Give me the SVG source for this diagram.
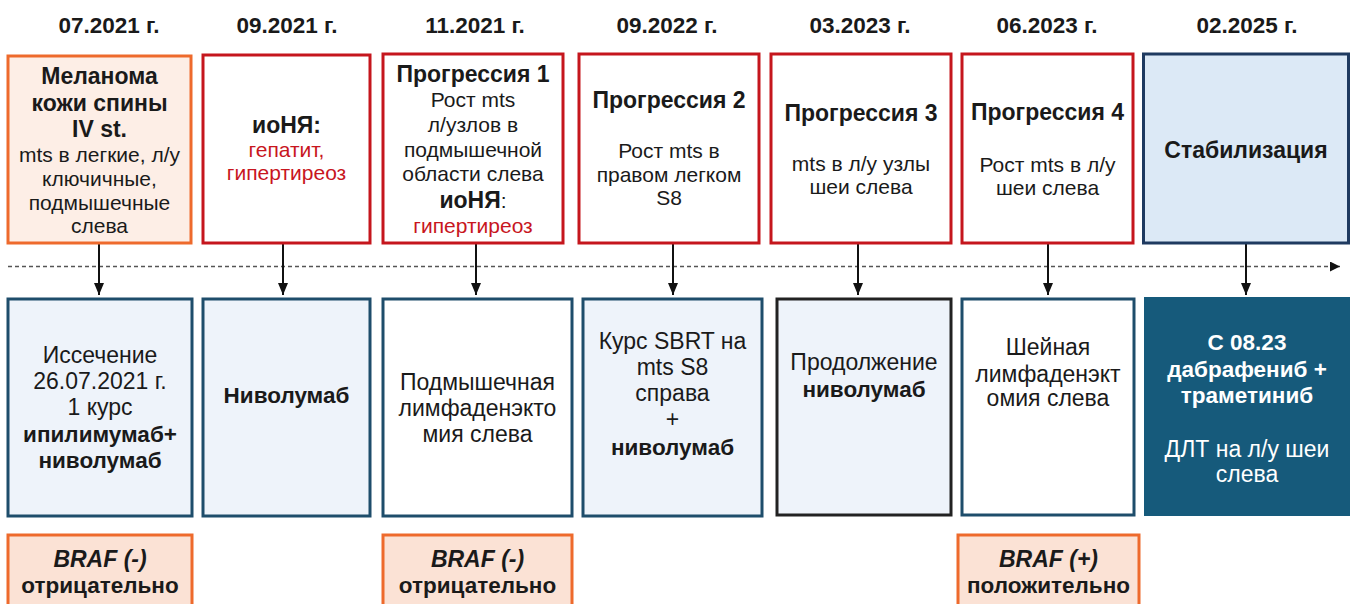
<svg xmlns="http://www.w3.org/2000/svg" width="1357" height="604" viewBox="0 0 1357 604">
<defs>
<style>
text{font-family:"Liberation Sans",Arial,sans-serif;text-anchor:middle;fill:#1a1a1a}
.d{font-size:22.5px;font-weight:bold}
.t{font-size:21px}
.tb{font-size:23px;font-weight:bold}
.b{font-weight:bold}
.s{font-size:23px}
.sb{font-size:22.5px;font-weight:bold}
.r{fill:#C8161E}
.w{fill:#ffffff}
.i{font-style:italic}
.red{fill:#ffffff;stroke:#C5161D;stroke-width:3}
.or{fill:#FDEEE6;stroke:#EE6A2C;stroke-width:3}
.braf{fill:#FBE2D5;stroke:#EE6A2C;stroke-width:3}
.stab{fill:#DCE9F6;stroke:#1F3A60;stroke-width:3}
.lb{fill:#EEF3FA;stroke:#1E4D6B;stroke-width:3}
.wb{fill:#ffffff;stroke:#1E4D6B;stroke-width:3}
.kb{fill:#EEF3FA;stroke:#222222;stroke-width:3}
.db{fill:#165A7B;stroke:#165A7B;stroke-width:2}
.ar{stroke:#111;stroke-width:2;fill:none;marker-end:url(#ah)}
</style>
<marker id="ah" viewBox="0 0 12 10" refX="12" refY="5" markerWidth="12" markerHeight="10" markerUnits="userSpaceOnUse" orient="auto">
<path d="M0,0 L12,5 L0,10 Z" fill="#111"/>
</marker>
<marker id="tl" viewBox="0 0 10 10" refX="10" refY="5" markerWidth="10" markerHeight="10" markerUnits="userSpaceOnUse" orient="auto">
<path d="M0,0 L10,5 L0,10 Z" fill="#111"/>
</marker>
</defs>

<g id="dates">
<text class="d" x="109" y="33">07.2021 г.</text>
<text class="d" x="287" y="33">09.2021 г.</text>
<text class="d" x="475" y="33">11.2021 г.</text>
<text class="d" x="667" y="33">09.2022 г.</text>
<text class="d" x="860" y="33">03.2023 г.</text>
<text class="d" x="1047" y="33">06.2023 г.</text>
<text class="d" x="1247" y="33">02.2025 г.</text>
</g>

<g id="connectors">
<line x1="8" y1="266.5" x2="1340" y2="266.5" stroke="#555" stroke-width="1.5" stroke-dasharray="4 3" marker-end="url(#tl)"/>
<line class="ar" x1="99" y1="244" x2="99" y2="295"/>
<line class="ar" x1="283" y1="244" x2="283" y2="295"/>
<line class="ar" x1="476" y1="244" x2="476" y2="295"/>
<line class="ar" x1="673" y1="244" x2="673" y2="295"/>
<line class="ar" x1="858" y1="244" x2="858" y2="295"/>
<line class="ar" x1="1048" y1="244" x2="1048" y2="295"/>
<line class="ar" x1="1246" y1="244" x2="1246" y2="295"/>
</g>

<g id="top1">
<rect class="or" x="8" y="56" width="183" height="187"/>
<text class="tb" x="99.5" y="84">Меланома</text>
<text class="tb" x="99.5" y="110.5">кожи спины</text>
<text class="tb" x="99.5" y="137">IV st.</text>
<text class="t" x="99.5" y="162">mts в легкие, л/у</text>
<text class="t" x="99.5" y="185.5">ключичные,</text>
<text class="t" x="99.5" y="209.5">подмышечные</text>
<text class="t" x="99.5" y="233">слева</text>
</g>

<g id="top2">
<rect class="red" x="203" y="55" width="167" height="188"/>
<text class="tb" x="286.5" y="133">иоНЯ:</text>
<text class="t r" x="286.5" y="156.5">гепатит,</text>
<text class="t r" x="286.5" y="180">гипертиреоз</text>
</g>

<g id="top3">
<rect class="red" x="383" y="54" width="180" height="189"/>
<text class="tb" x="473" y="82">Прогрессия 1</text>
<text class="t" x="473" y="107">Рост mts</text>
<text class="t" x="473" y="131.5">л/узлов в</text>
<text class="t" x="473" y="156.5">подмышечной</text>
<text class="t" x="473" y="181">области слева</text>
<text class="t" x="473" y="208"><tspan class="tb">иоНЯ</tspan>:</text>
<text class="t r" x="473" y="232.5">гипертиреоз</text>
</g>

<g id="top4">
<rect class="red" x="579" y="54" width="180" height="189"/>
<text class="tb" x="669" y="108">Прогрессия 2</text>
<text class="t" x="669" y="157.5">Рост mts в</text>
<text class="t" x="669" y="181.5">правом легком</text>
<text class="t" x="669" y="205">S8</text>
</g>

<g id="top5">
<rect class="red" x="771" y="54" width="180" height="189"/>
<text class="tb" x="861" y="121">Прогрессия 3</text>
<text class="t" x="861" y="170.5">mts в л/у узлы</text>
<text class="t" x="861" y="194">шеи слева</text>
</g>

<g id="top6">
<rect class="red" x="962" y="54" width="171" height="189"/>
<text class="tb" x="1047.5" y="120">Прогрессия 4</text>
<text class="t" x="1047.5" y="171.5">Рост mts в л/у</text>
<text class="t" x="1047.5" y="195">шеи слева</text>
</g>

<g id="top7">
<rect class="stab" x="1143.5" y="54" width="205" height="189"/>
<text class="tb" x="1246" y="158">Стабилизация</text>
</g>

<g id="bot1">
<rect class="lb" x="8" y="299" width="184" height="217"/>
<text class="s" x="100" y="363">Иссечение</text>
<text class="s" x="100" y="389">26.07.2021 г.</text>
<text class="s" x="100" y="415">1 курс</text>
<text class="sb" x="100" y="442">ипилимумаб+</text>
<text class="sb" x="100" y="468">ниволумаб</text>
</g>

<g id="bot2">
<rect class="lb" x="203" y="299" width="167" height="217"/>
<text class="sb" x="286.5" y="402.5">Ниволумаб</text>
</g>

<g id="bot3">
<rect class="wb" x="383" y="299" width="189" height="217"/>
<text class="s" x="477.5" y="390">Подмышечная</text>
<text class="s" x="477.5" y="416">лимфаденэкто</text>
<text class="s" x="477.5" y="441.5">мия слева</text>
</g>

<g id="bot4">
<rect class="lb" x="583" y="299" width="179" height="217"/>
<text class="s" x="672.5" y="349">Курс SBRT на</text>
<text class="s" x="672.5" y="375">mts S8</text>
<text class="s" x="672.5" y="401">справа</text>
<text class="s" x="672.5" y="427">+</text>
<text class="sb" x="672.5" y="455">ниволумаб</text>
</g>

<g id="bot5">
<rect class="kb" x="777" y="299" width="174" height="216"/>
<text class="s" x="864" y="370">Продолжение</text>
<text class="sb" x="864" y="396.5">ниволумаб</text>
</g>

<g id="bot6">
<rect class="wb" x="962" y="299" width="172" height="216"/>
<text class="s" x="1048" y="355">Шейная</text>
<text class="s" x="1048" y="381.5">лимфаденэкт</text>
<text class="s" x="1048" y="406">омия слева</text>
</g>

<g id="bot7">
<rect class="db" x="1145" y="298" width="204" height="217"/>
<text class="sb w" x="1247" y="350">С 08.23</text>
<text class="sb w" x="1247" y="376.5">дабрафениб +</text>
<text class="sb w" x="1247" y="402.5">траметиниб</text>
<text class="s w" x="1247" y="456.5">ДЛТ на л/у шеи</text>
<text class="s w" x="1247" y="481.5">слева</text>
</g>

<g id="braf1">
<rect class="braf" x="8" y="535" width="184" height="80"/>
<text class="s b i" x="100" y="566.5">BRAF (-)</text>
<text class="sb" x="100" y="593">отрицательно</text>
</g>

<g id="braf2">
<rect class="braf" x="383" y="535" width="189" height="80"/>
<text class="s b i" x="477.5" y="566.5">BRAF (-)</text>
<text class="sb" x="477.5" y="593">отрицательно</text>
</g>

<g id="braf3">
<rect class="braf" x="958" y="535" width="181" height="80"/>
<text class="s b i" x="1048.5" y="566.5">BRAF (+)</text>
<text class="sb" x="1048.5" y="593">положительно</text>
</g>
</svg>
